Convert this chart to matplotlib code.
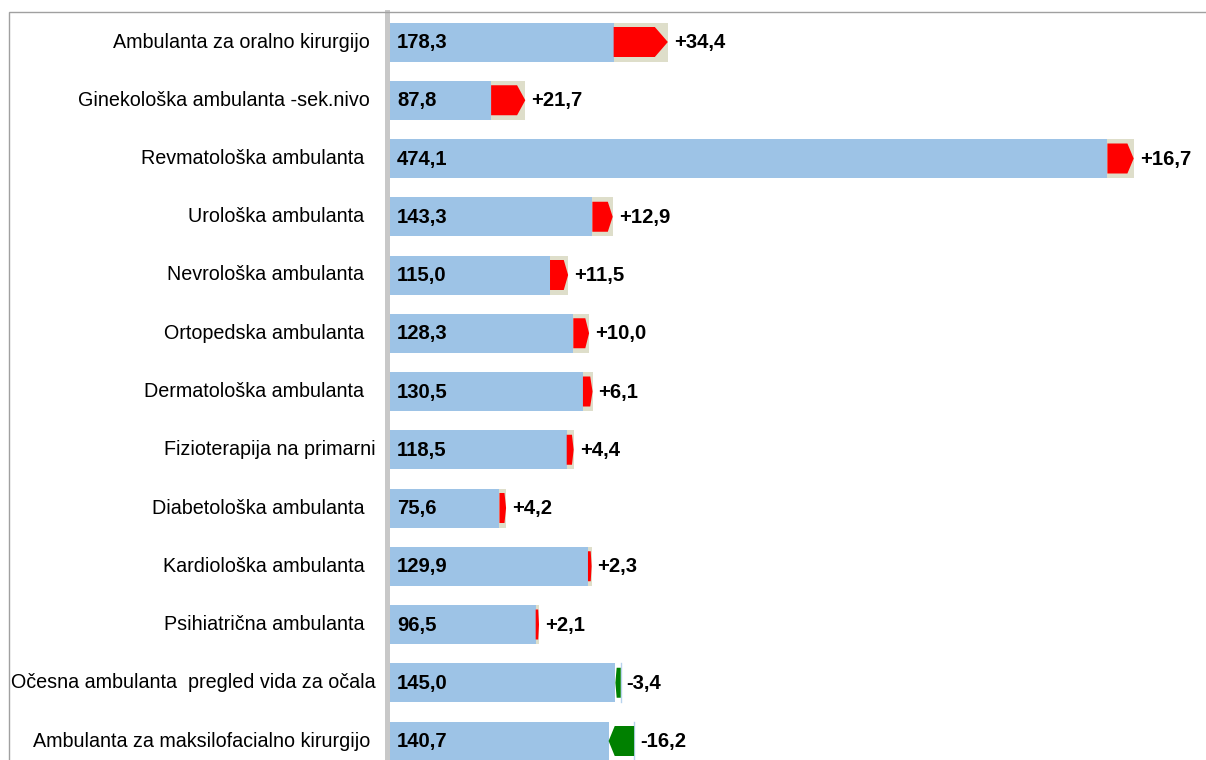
import matplotlib
matplotlib.use("Agg")
import matplotlib.pyplot as plt
from matplotlib.patches import Polygon, Rectangle

categories = [
    "Ambulanta za oralno kirurgijo ",
    "Ginekološka ambulanta -sek.nivo ",
    "Revmatološka ambulanta  ",
    "Urološka ambulanta  ",
    "Nevrološka ambulanta  ",
    "Ortopedska ambulanta  ",
    "Dermatološka ambulanta  ",
    "Fizioterapija na primarni",
    "Diabetološka ambulanta  ",
    "Kardiološka ambulanta  ",
    "Psihiatrična ambulanta  ",
    "Očesna ambulanta  pregled vida za očala",
    "Ambulanta za maksilofacialno kirurgijo ",
]
values = [178.3, 87.8, 474.1, 143.3, 115.0, 128.3, 130.5, 118.5, 75.6, 129.9, 96.5, 145.0, 140.7]
deltas = [34.4, 21.7, 16.7, 12.9, 11.5, 10.0, 6.1, 4.4, 4.2, 2.3, 2.1, -3.4, -16.2]

BLUE = "#9DC3E6"
BEIGE = "#DEDECA"
RED = "#FF0000"
GREEN = "#008000"
FONT = "Liberation Sans"

W, H = 1206, 760
fig = plt.figure(figsize=(W / 100, H / 100), dpi=100)
fig.patch.set_facecolor("white")

left_px, top_px = 387, 12
scale = 1.575  # px per unit
ax = fig.add_axes([left_px / W, 0, 1 - left_px / W, (H - top_px) / H])
ax.set_xlim(0, (W - left_px) / scale)
row0, step = 42, 58.25
ax.set_ylim((H - row0) / step, (top_px - row0) / step)

bar_h = 39 / step
arr_h = 30 / step

def fmt(v, sign=False):
    s = f"{abs(v):.1f}".replace(".", ",")
    if sign:
        s = ("+" if v >= 0 else "-") + s
    return s

for i, (v, d) in enumerate(zip(values, deltas)):
    prev = v - d
    lo, hi = min(v, prev), max(v, prev)
    ax.barh(i, lo, height=bar_h, color=BLUE, zorder=1)
    length = hi - lo
    tip = 0.24 * length
    if d >= 0:
        ax.barh(i, length, left=lo, height=bar_h, color=BEIGE, zorder=1)
        pts = [(lo, i - arr_h / 2), (hi - tip, i - arr_h / 2), (hi, i),
               (hi - tip, i + arr_h / 2), (lo, i + arr_h / 2)]
        ax.add_patch(Polygon(pts, closed=True, facecolor=RED, edgecolor="none", zorder=2))
    else:
        ax.plot([hi, hi], [i - bar_h / 2, i + bar_h / 2], color="#B8D3EE", lw=1.0, zorder=1.5)
        pts = [(hi, i - arr_h / 2), (lo + tip, i - arr_h / 2), (lo, i),
               (lo + tip, i + arr_h / 2), (hi, i + arr_h / 2)]
        ax.add_patch(Polygon(pts, closed=True, facecolor=GREEN, edgecolor="none", zorder=2))
    ax.annotate(fmt(v), xy=(0, i), xytext=(10, -0.5), textcoords="offset pixels",
                va="center", ha="left", fontsize=14.6, fontweight="bold",
                family=FONT, color="black", zorder=3)
    ax.annotate(fmt(d, sign=True), xy=(hi, i), xytext=(6, -0.5), textcoords="offset pixels",
                va="center", ha="left", fontsize=14.6, fontweight="bold",
                family=FONT, color="black", zorder=3)

ax.set_yticks(range(len(categories)))
ax.set_yticklabels(categories, family=FONT, fontsize=14.25, color="black")
ax.tick_params(axis="y", length=0, pad=8.4)
for lbl in ax.get_yticklabels():
    lbl.set_va("center")
ax.set_xticks([])
for s in ["top", "right", "bottom"]:
    ax.spines[s].set_visible(False)
ax.spines["left"].set_color("#C8C8C8")
ax.spines["left"].set_linewidth(3.6)
ax.spines["left"].set_zorder(4)
ax.patch.set_alpha(0)

fig.add_artist(Rectangle((9 / W, -0.2), 1.2, 1 - top_px / H + 0.2,
                         transform=fig.transFigure, fill=False,
                         edgecolor="#A0A0A0", lw=1.0))

fig.savefig("out.png", dpi=100)
